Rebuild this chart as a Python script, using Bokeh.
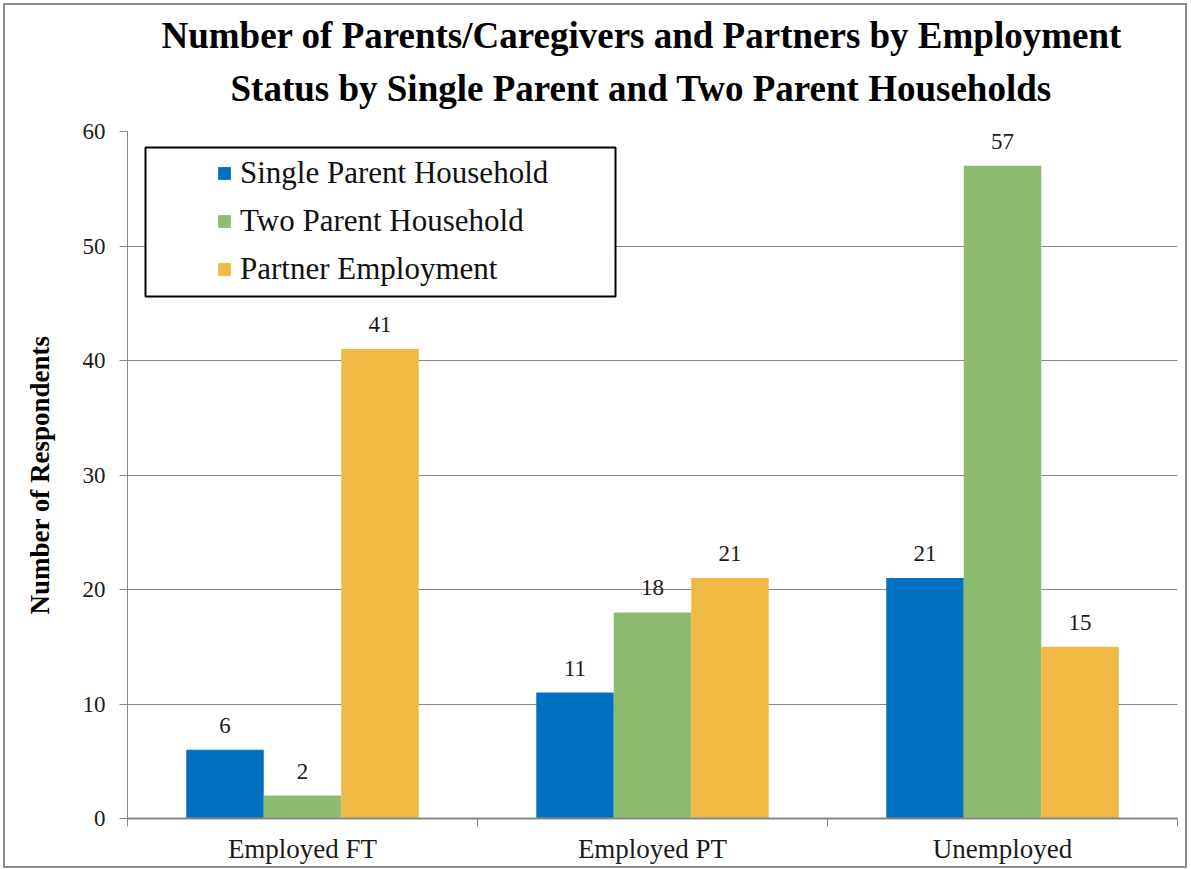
from bokeh.plotting import figure
from bokeh.models import ColumnDataSource, FixedTicker, Legend, LegendItem, BoxAnnotation, Title
from bokeh.embed import file_html
from bokeh.resources import INLINE
from bokeh.core.properties import value

categories = ["Employed FT", "Employed PT", "Unemployed"]
series_names = ["Single Parent Household", "Two Parent Household", "Partner Employment"]
single_parent = [6, 11, 21]
two_parent = [2, 18, 57]
partner = [41, 21, 15]
colors = ["#0070C0", "#8DBB70", "#F0B944"]
y_ticks = [0, 10, 20, 30, 40, 50, 60]
title_lines = ["Number of Parents/Caregivers and Partners by Employment",
               "Status by Single Parent and Two Parent Households"]
y_title = "Number of Respondents"

FONT = "Liberation Serif"
GRID = "#878787"
BAR_W = 0.2214

p = figure(frame_width=1050, frame_height=687, x_range=(0, 3), y_range=(0, 60),
           output_backend="svg", toolbar_location=None,
           min_border_left=122, min_border_top=126, min_border_right=8, min_border_bottom=45,
           background_fill_color="white", border_fill_color="white")
p.styles = {"border": "2px solid #8c8c8c", "margin": "3px"}
p.outline_line_color = None

centers = [i + 0.5 for i in range(len(categories))]
all_series = [single_parent, two_parent, partner]
offsets = [-BAR_W, 0.0, BAR_W]

renderers = []
for vals, off, col in zip(all_series, offsets, colors):
    src = ColumnDataSource(dict(x=[c + off for c in centers], top=vals,
                                label=[str(v) for v in vals]))
    r = p.vbar(x="x", top="top", width=BAR_W, bottom=0, source=src,
               fill_color=col, line_color=None)
    renderers.append(r)
    p.text(x="x", y="top", text="label", source=src, text_align="center",
           text_baseline="bottom", y_offset=-17, text_font=value(FONT),
           text_font_size="23px", text_color="#1a1a1a")

# legend frame
box = BoxAnnotation(left=18/350, right=488/350, top=(818-147)/687*60, bottom=(818-296)/687*60,
                    fill_color="white", fill_alpha=1.0, line_color="black", line_alpha=1.0,
                    line_width=2)
p.add_layout(box)

legend = Legend(items=[LegendItem(label=n, renderers=[r]) for n, r in zip(series_names, renderers)],
                location=(89, 531), padding=0, margin=0, spacing=12,
                border_line_color=None, background_fill_alpha=0.0,
                glyph_width=16, glyph_height=16, label_standoff=8, label_height=34,
                label_text_font=FONT, label_text_font_size="31px", label_text_color="#111111")
p.add_layout(legend, "center")

# axes
p.xgrid.grid_line_color = None
p.ygrid.grid_line_color = GRID
p.ygrid.ticker = FixedTicker(ticks=y_ticks)

p.yaxis.ticker = FixedTicker(ticks=y_ticks, minor_ticks=[])
p.yaxis.axis_line_color = GRID
p.yaxis.major_tick_line_color = GRID
p.yaxis.major_tick_out = 8
p.yaxis.major_tick_in = 0
p.yaxis.minor_tick_line_color = None
p.yaxis.major_label_text_font = FONT
p.yaxis.major_label_text_font_size = "23px"
p.yaxis.major_label_text_color = "#1a1a1a"
p.yaxis.major_label_standoff = 14
p.yaxis.axis_label = y_title
p.yaxis.axis_label_text_font = FONT
p.yaxis.axis_label_text_font_size = "27px"
p.yaxis.axis_label_text_font_style = "bold"
p.yaxis.axis_label_text_color = "#000000"
p.yaxis.axis_label_standoff = 25

p.xaxis.ticker = FixedTicker(ticks=centers, minor_ticks=[0, 1, 2, 3])
p.xaxis.major_label_overrides = {c: n for c, n in zip(centers, categories)}
p.xaxis.axis_line_color = GRID
p.xaxis.axis_line_width = 2
p.xaxis.major_tick_line_color = None
p.xaxis.minor_tick_line_color = GRID
p.xaxis.minor_tick_out = 8
p.xaxis.minor_tick_in = 0
p.xaxis.major_label_text_font = FONT
p.xaxis.major_label_text_font_size = "27px"
p.xaxis.major_label_text_color = "#1a1a1a"
p.xaxis.major_label_standoff = 7

title_offsets = [34, 103]
for i, (line, off) in enumerate(reversed(list(zip(title_lines, title_offsets)))):
    t = Title(text=line, align="left", text_font=FONT, text_font_size="37px",
              text_font_style="bold", text_color="#000000",
              standoff=46 if i == 0 else -27, offset=off)
    p.add_layout(t, "above")

open("out.html", "w").write(file_html(p, INLINE))
